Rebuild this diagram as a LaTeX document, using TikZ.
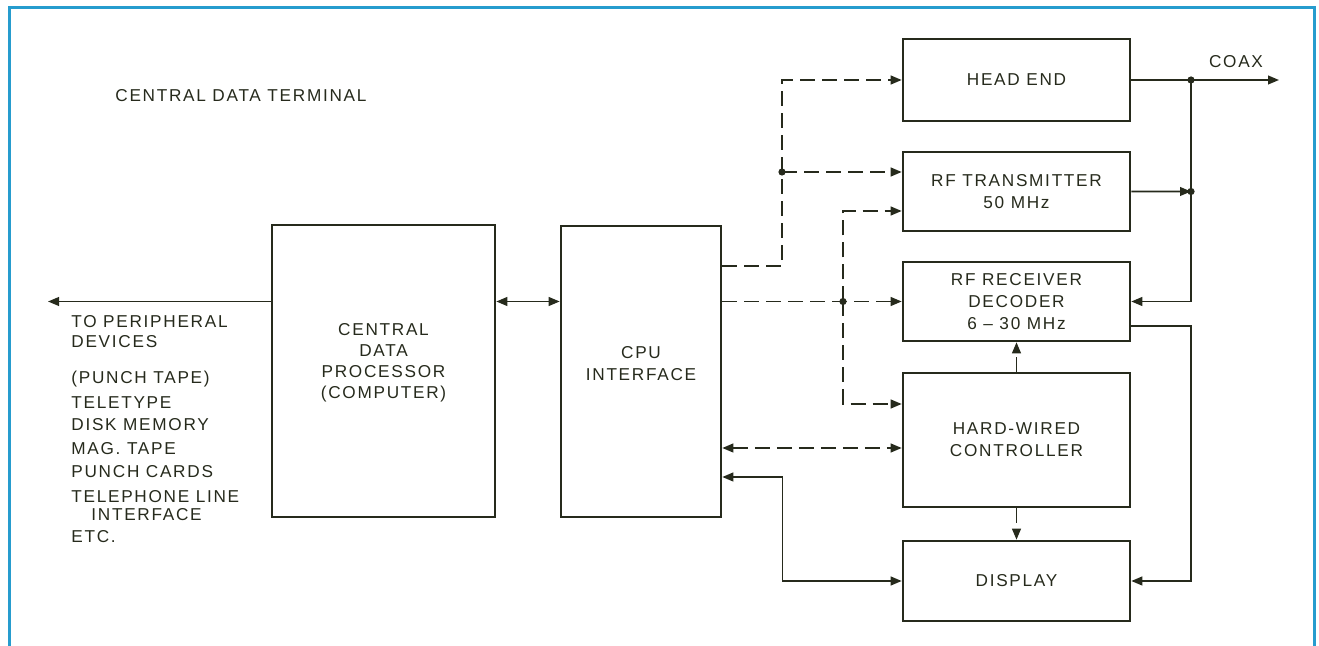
\documentclass[tikz,border=0pt]{standalone}
\usepackage{fontspec}
\setmainfont{Liberation Sans}[LetterSpace=10]
\usepackage{tikz}
\usetikzlibrary{positioning, arrows.meta}
\definecolor{ink}{RGB}{38,42,28}
\definecolor{frameblue}{RGB}{38,156,206}

\begin{document}
\begin{tikzpicture}[x=0.5pt, y=-0.5pt, >={Triangle[length=5.5pt, width=4.4pt]}, font=\fontsize{8.6}{11}\selectfont, text=ink]
    % Stili
    \tikzstyle{box} = [draw=ink, line width=1.3pt, rectangle, minimum width=113.5pt, inner sep=0pt, align=center]
    \tikzstyle{lbl} = [inner sep=0pt, align=center]
    \tikzstyle{item} = [inner sep=0pt, anchor=west]
    \tikzstyle{line} = [draw=ink, line width=0.8pt]
    \tikzstyle{dline} = [line, dash pattern=on 7.5pt off 3.5pt]

    \useasboundingbox (0,0) rectangle (1319,646);

    % Cornice
    \draw[frameblue, line width=1.5pt] (9,646) -- (9,8) -- (1314,8) -- (1314,646);

    % Blocchi
    \node[box, minimum width=111.5pt, minimum height=146pt] (cdp) at (383.5,371) {};
    \node[box, minimum width=80pt, minimum height=145.5pt] (cpu) at (641,371.5) {};
    \node[box, minimum height=41pt] (head) at (1016.5,80) {HEAD END};
    \node[box, minimum height=39.5pt, below=14.2pt of head] (rftx) {RF TRANSMITTER\\50 MHz};
    \node[box, minimum height=39.5pt, below=14.2pt of rftx] (rfrx) {RF RECEIVER\\DECODER\\6 -- 30 MHz};
    \node[box, minimum height=67pt, below=14.7pt of rfrx] (hw) {HARD-WIRED\\CONTROLLER};
    \node[box, minimum height=40pt, below=15.7pt of hw] (disp) {DISPLAY};

    % Testi
    \node[item] (title) at (115,96) {CENTRAL DATA TERMINAL};
    \node[lbl, font=\fontsize{8.6}{10.5}\selectfont] (cdptxt) at ([yshift=4.25pt]cdp.center) {CENTRAL\\DATA\\PROCESSOR\\(COMPUTER)};
    \node[lbl] (cputxt) at ([yshift=4pt]cpu.center) {CPU\\INTERFACE};
    \node[lbl] (coaxlbl) at (1236,62) {COAX};
    \node[item] (per1) at (71,322) {TO PERIPHERAL};
    \node[item] (per2) at (71,342) {DEVICES};
    \node[item] (per3) at (71,379) {(PUNCH TAPE)};
    \node[item] (per4) at (71,403) {TELETYPE};
    \node[item] (per5) at (71,425) {DISK MEMORY};
    \node[item] (per6) at (71,449) {MAG. TAPE};
    \node[item] (per7) at (71,472) {PUNCH CARDS};
    \node[item] (per8) at (71,497) {TELEPHONE LINE};
    \node[item] (per9) at (91,515) {INTERFACE};
    \node[item] (per10) at (71,537) {ETC.};

    % Punti
    \coordinate (periph) at (48,301.5);
    \coordinate (coax) at (1279,80);
    \coordinate (ja) at (782,172);
    \coordinate (jb) at (843,301.5);
    \coordinate (jc) at (1191,80);
    \coordinate (jd) at (1191,191.5);
    \coordinate (cpuhigh) at ([yshift=52.75pt]cpu.east);
    \coordinate (ctl) at ([yshift=-38.25pt]cpu.east);
    \coordinate (cpulow) at ([yshift=-52.75pt]cpu.east);

    % Collegamenti
    \draw[line, ->] (cdp.west |- periph) -- (periph);
    \draw[line, <->] (cdp.east |- rfrx.west) -- (cpu.west |- rfrx.west);
    \draw[dline, ->] (cpuhigh) -| (ja) |- (head.west);
    \draw[dline, ->] (ja) -- (ja -| rftx.west);
    \draw[dline, ->] (cpu.east |- rfrx.west) -- (rfrx.west);
    \draw[dline, ->] (jb) |- ([yshift=-9.75pt]rftx.west);
    \draw[dline, ->] (jb) |- ([yshift=18pt]hw.west);
    \draw[dline, <->] (ctl) -- (ctl -| hw.west);
    \draw[line, <->] (cpulow) -- ++(30pt,0) |- (disp.west);
    \draw[dline, ->] (hw.north) -- (rfrx.south);
    \draw[dline, ->] (hw.south) -- (disp.north);
    \draw[line, ->] (head.east) -- (coax);
    \draw[line, ->] (rftx.east) -- (jd);
    \draw[line, ->] (jc) |- (rfrx.east);
    \draw[line, ->] ([yshift=-12.25pt]rfrx.east) -| (jd |- disp.east) -- (disp.east);

    % Giunzioni
    \fill[ink] (ja) circle (1.8pt);
    \fill[ink] (jb) circle (1.8pt);
    \fill[ink] (jc) circle (1.8pt);
    \fill[ink] (jd) circle (1.8pt);
\end{tikzpicture}
\end{document}
